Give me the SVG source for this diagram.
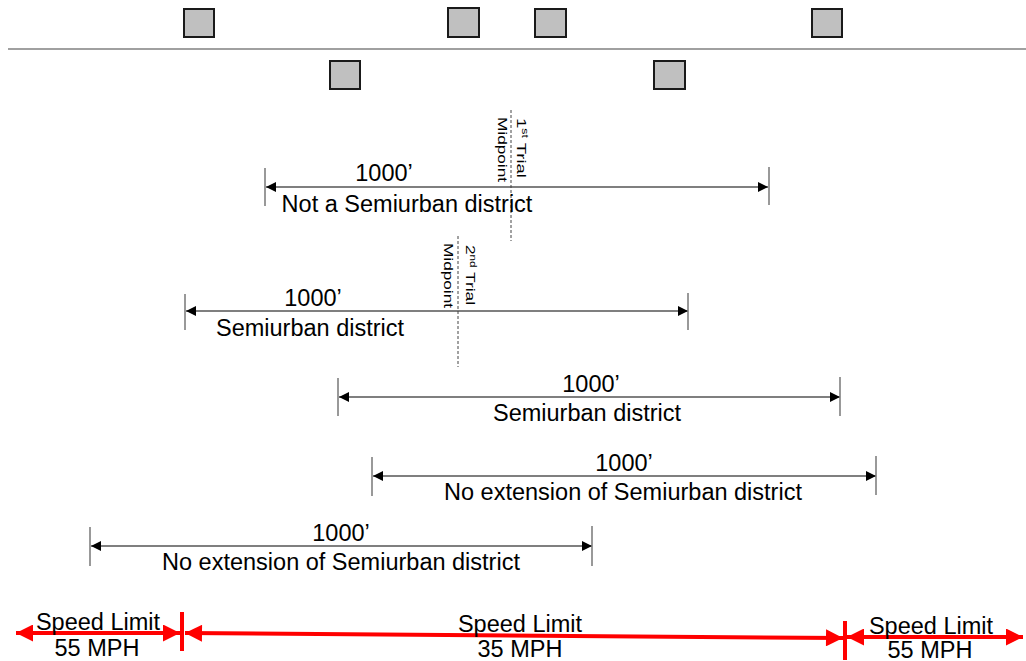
<svg xmlns="http://www.w3.org/2000/svg" width="1026" height="661" viewBox="0 0 1026 661">
<defs>
<style>
.bldg{fill:#c0c0c0;stroke:#1a1a1a;stroke-width:2}
.dim{stroke:#555;stroke-width:1.3;fill:none}
.tick{stroke:#777;stroke-width:1.5}
.mid{stroke:#444;stroke-width:1;stroke-dasharray:3 2}
.lbl{font-family:"Liberation Sans",Arial,sans-serif;font-size:23.5px;fill:#000;text-anchor:middle}
.rot{font-family:"Liberation Sans",Arial,sans-serif;font-size:13.5px;fill:#000;text-anchor:middle}
.red{stroke:#ff0000;stroke-width:4;fill:none}
.redtick{stroke:#ff0000;stroke-width:4}
</style>
<marker id="ah" viewBox="0 0 10 10" refX="10" refY="5" markerWidth="11" markerHeight="10" markerUnits="userSpaceOnUse" orient="auto-start-reverse">
<path d="M0,0 L10,5 L0,10 Z" fill="#000"/>
</marker>
<marker id="rah" viewBox="0 0 10 10" refX="10" refY="5" markerWidth="18" markerHeight="17" markerUnits="userSpaceOnUse" orient="auto-start-reverse">
<path d="M0,0 L10,5 L0,10 Z" fill="#ff0000"/>
</marker>
</defs>
<rect width="1026" height="661" fill="#fff"/>

<g id="road">
<line x1="8" y1="49" x2="1026" y2="49" stroke="#808080" stroke-width="1.5"/>
</g>

<g id="buildings">
<rect id="b1" class="bldg" x="184" y="9" width="30" height="28"/>
<rect id="b2" class="bldg" x="448" y="8" width="31" height="29"/>
<rect id="b3" class="bldg" x="535" y="9" width="31" height="28"/>
<rect id="b4" class="bldg" x="812" y="9" width="30" height="28"/>
<rect id="b5" class="bldg" x="330" y="61" width="30" height="28"/>
<rect id="b6" class="bldg" x="654" y="61" width="31" height="28"/>
</g>

<g id="connectors">
<line class="dim" x1="266" y1="187" x2="768" y2="187" marker-start="url(#ah)" marker-end="url(#ah)"/>
<line class="dim" x1="186" y1="311" x2="688" y2="311" marker-start="url(#ah)" marker-end="url(#ah)"/>
<line class="dim" x1="339" y1="397" x2="840" y2="397" marker-start="url(#ah)" marker-end="url(#ah)"/>
<line class="dim" x1="373" y1="476" x2="876" y2="476" marker-start="url(#ah)" marker-end="url(#ah)"/>
<line class="dim" x1="91" y1="546" x2="592" y2="546" marker-start="url(#ah)" marker-end="url(#ah)"/>
<line class="red" x1="16" y1="633" x2="180" y2="633" marker-start="url(#rah)" marker-end="url(#rah)"/>
<line class="red" x1="185" y1="633" x2="843" y2="638" marker-start="url(#rah)" marker-end="url(#rah)"/>
<line class="red" x1="847" y1="637" x2="1023" y2="637" marker-start="url(#rah)" marker-end="url(#rah)"/>
</g>

<g id="ticks">
<line class="tick" x1="265" y1="168" x2="265" y2="206"/>
<line class="tick" x1="769" y1="167" x2="769" y2="205"/>
<line class="tick" x1="185" y1="294" x2="185" y2="330"/>
<line class="tick" x1="688" y1="293" x2="688" y2="330"/>
<line class="tick" x1="338" y1="378" x2="338" y2="416"/>
<line class="tick" x1="840" y1="377" x2="840" y2="416"/>
<line class="tick" x1="372" y1="457" x2="372" y2="496"/>
<line class="tick" x1="876" y1="456" x2="876" y2="495"/>
<line class="tick" x1="90" y1="527" x2="90" y2="566"/>
<line class="tick" x1="592" y1="526" x2="592" y2="566"/>
<line class="redtick" x1="182" y1="612" x2="182" y2="651"/>
<line class="redtick" x1="845" y1="621" x2="845" y2="660"/>
</g>

<g id="midpoint1">
<line class="mid" x1="511" y1="110" x2="511" y2="241"/>
<text class="rot" x="517" y="148" transform="rotate(90 517 148)" textLength="60" lengthAdjust="spacingAndGlyphs">1<tspan font-size="9" dy="-4.5">st</tspan><tspan dy="4.5"> Trial</tspan></text>
<text class="rot" x="497.5" y="149.5" transform="rotate(90 497.5 149.5)" textLength="65" lengthAdjust="spacingAndGlyphs">Midpoint</text>
</g>

<g id="midpoint2">
<line class="mid" x1="458" y1="236" x2="458" y2="367"/>
<text class="rot" x="465.5" y="275" transform="rotate(90 465.5 275)" textLength="60" lengthAdjust="spacingAndGlyphs">2<tspan font-size="9" dy="-4.5">nd</tspan><tspan dy="4.5"> Trial</tspan></text>
<text class="rot" x="443.5" y="275.5" transform="rotate(90 443.5 275.5)" textLength="65" lengthAdjust="spacingAndGlyphs">Midpoint</text>
</g>

<g id="dim1">
<text class="lbl" x="384" y="181">1000’</text>
<text class="lbl" x="407" y="212">Not a Semiurban district</text>
</g>
<g id="dim2">
<text class="lbl" x="313" y="306">1000’</text>
<text class="lbl" x="310" y="336">Semiurban district</text>
</g>
<g id="dim3">
<text class="lbl" x="591" y="392">1000’</text>
<text class="lbl" x="587" y="421">Semiurban district</text>
</g>
<g id="dim4">
<text class="lbl" x="624" y="471">1000’</text>
<text class="lbl" x="623" y="500">No extension of Semiurban district</text>
</g>
<g id="dim5">
<text class="lbl" x="341" y="541">1000’</text>
<text class="lbl" x="341" y="570">No extension of Semiurban district</text>
</g>

<g id="speed1">
<text class="lbl" x="98" y="630">Speed Limit</text>
<text class="lbl" x="97" y="656">55 MPH</text>
</g>
<g id="speed2">
<text class="lbl" x="520" y="632">Speed Limit</text>
<text class="lbl" x="520" y="657">35 MPH</text>
</g>
<g id="speed3">
<text class="lbl" x="931" y="634">Speed Limit</text>
<text class="lbl" x="930" y="658">55 MPH</text>
</g>
</svg>
